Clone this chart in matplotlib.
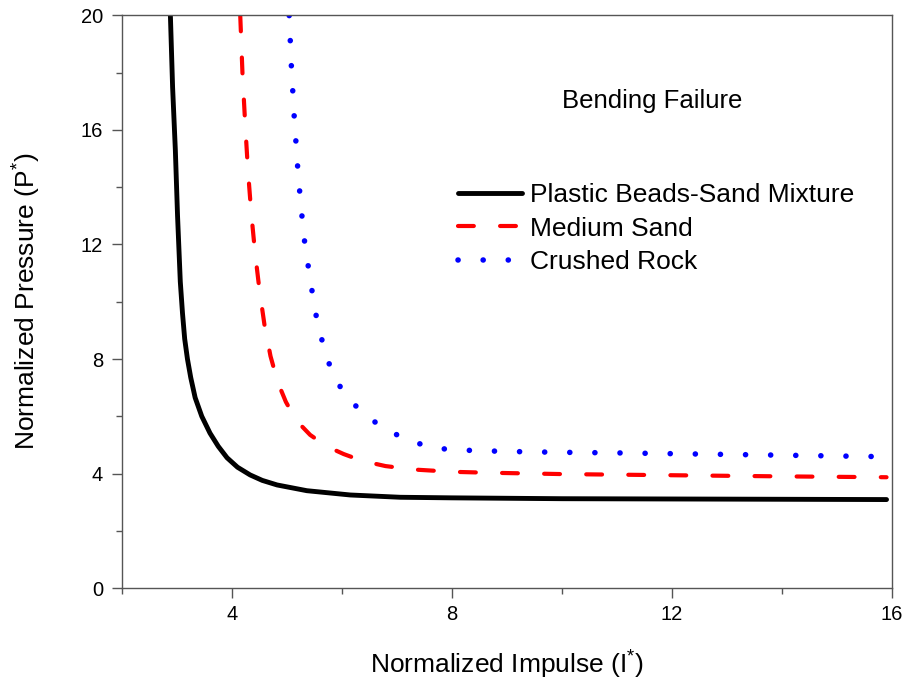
import matplotlib
matplotlib.use("Agg")
import matplotlib.pyplot as plt
from matplotlib.ticker import MultipleLocator, FixedLocator, NullFormatter

plt.rcParams['font.family'] = ['Liberation Sans', 'DejaVu Sans']
plt.rcParams['mathtext.fontset'] = 'custom'
plt.rcParams['mathtext.rm'] = 'Liberation Sans'
plt.rcParams['mathtext.it'] = 'Liberation Sans:italic'

# Data
beads_x = [2.88, 2.92, 2.97, 3.01, 3.06, 3.10, 3.14, 3.19, 3.25, 3.33, 3.45, 3.60, 3.75,
           3.91, 4.10, 4.33, 4.55, 4.82, 5.36, 6.15, 7.06, 8.0, 10.0, 12.0, 14.0, 15.9]
beads_y = [20, 17.5, 15.3, 13.0, 10.7, 9.6, 8.7, 8.0, 7.35, 6.65, 6.0, 5.41, 4.95,
           4.55, 4.22, 3.95, 3.76, 3.60, 3.40, 3.25, 3.17, 3.15, 3.12, 3.11, 3.10, 3.09]

sand_x = [4.15, 4.19, 4.24, 4.29, 4.35, 4.42, 4.50, 4.59, 4.70, 4.83, 4.98, 5.17, 5.42,
          5.72, 6.03, 6.37, 6.79, 7.3, 8.0, 8.6, 10.0, 12.0, 14.0, 15.9]
sand_y = [20, 18.0, 16.2, 14.6, 13.1, 11.7, 10.4, 9.2, 8.1, 7.2, 6.5, 5.85, 5.35,
          4.95, 4.68, 4.44, 4.26, 4.14, 4.06, 4.03, 3.98, 3.94, 3.90, 3.87]

rock_x = [5.04, 5.08, 5.13, 5.19, 5.25, 5.32, 5.42, 5.52, 5.63, 5.75, 5.97, 6.32, 6.76,
          7.21, 7.66, 8.12, 9.0, 10.0, 11.0, 12.5, 14.0, 15.8]
rock_y = [20, 18.2, 16.5, 14.8, 13.4, 12.1, 10.8, 9.6, 8.7, 7.9, 7.02, 6.2, 5.57,
          5.16, 4.89, 4.82, 4.77, 4.74, 4.72, 4.68, 4.64, 4.59]

labels = ["Plastic Beads-Sand Mixture", "Medium Sand", "Crushed Rock"]
x_major = [4, 8, 12, 16]
y_major = [0, 4, 8, 12, 16, 20]

fig = plt.figure(figsize=(9.07, 6.82), dpi=100)
ax = fig.add_axes([0.1345, 0.1378, 0.849, 0.8395])

ax.plot(beads_x, beads_y, color='black', lw=3.5, label=labels[0],
        solid_capstyle='round', solid_joinstyle='round')
ax.plot(sand_x, sand_y, color='red', lw=3.0, linestyle=(0, (3.8, 6.3)),
        dash_capstyle='round', label=labels[1])
ax.plot(rock_x, rock_y, color='blue', lw=4.0, linestyle=(0, (0.02, 4.5)),
        dash_capstyle='round', label=labels[2])

ax.set_xlim(2, 16)
ax.set_ylim(0, 20)
ax.xaxis.set_major_locator(FixedLocator(x_major))
ax.xaxis.set_minor_locator(MultipleLocator(2))
ax.yaxis.set_major_locator(FixedLocator(y_major))
ax.yaxis.set_minor_locator(MultipleLocator(2))
ax.xaxis.set_minor_formatter(NullFormatter())
ax.yaxis.set_minor_formatter(NullFormatter())

for s in ax.spines.values():
    s.set_color('#555555')
    s.set_linewidth(1.0)
ax.tick_params(which='major', direction='out', length=7.5, width=1.0, color='#555555',
               labelsize=14.5)
ax.tick_params(axis='y', which='major', pad=6)
ax.tick_params(axis='x', which='major', pad=4.5)
ax.tick_params(which='minor', direction='out', length=4, width=1.0, color='#555555')

ax.set_xlabel(r"Normalized Impulse (I$^{*}$)", fontsize=19)
ax.set_ylabel(r"Normalized Pressure (P$^{*}$)", fontsize=19)
ax.xaxis.set_label_coords(0.5, -0.106)
ax.yaxis.set_label_coords(-0.103, 0.5)

ax.text(0.688, 0.851, "Bending Failure", transform=ax.transAxes, fontsize=18.5,
        ha='center', va='center')

leg = ax.legend(loc='upper left', bbox_to_anchor=(0.436, 0.707), frameon=False,
                fontsize=19, handlelength=2.42, handletextpad=0.3, labelspacing=0.36,
                borderaxespad=0, borderpad=0)

fig.savefig("out.png", dpi=100)
